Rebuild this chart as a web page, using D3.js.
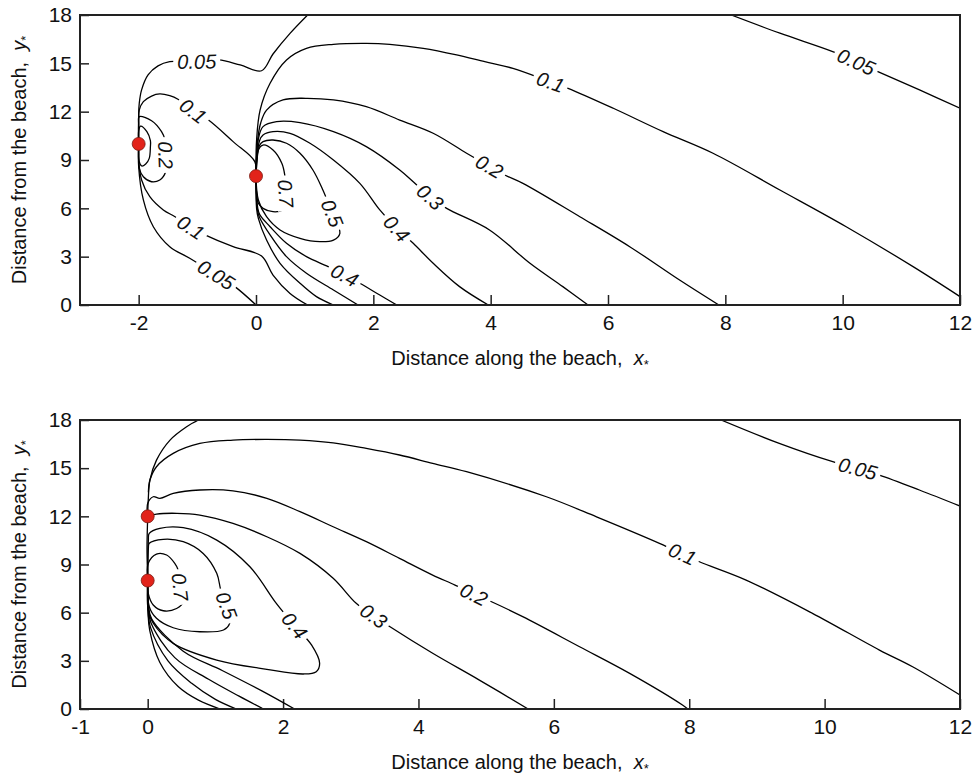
<!DOCTYPE html>
<html>
<head>
<meta charset="utf-8">
<script src="https://cdn.jsdelivr.net/npm/d3@7"></script>
<style>
  body { margin: 0; background: #fff; }
  svg { display: block; }
  .tick text { font-family: "Liberation Sans", Arial, sans-serif; font-size: 21px; fill: #111; }
  .tick line { stroke: #222; stroke-width: 1.5; }
  .axisTitle { font-family: "Liberation Sans", Arial, sans-serif; font-size: 20px; fill: #111; }
  .clabel { font-family: "Liberation Sans", Arial, sans-serif; font-size: 20px; font-style: italic; fill: #111; }
</style>
</head>
<body>
<script>
// ---- data ----
var topXDomain = [-3, 12];
var botXDomain = [-1, 12];
var yDomain = [0, 18];
var topXTicks = [-2, 0, 2, 4, 6, 8, 10, 12];
var botXTicks = [-1, 0, 2, 4, 6, 8, 10, 12];
var yTicks = [0, 3, 6, 9, 12, 15, 18];

var topSources = [[-2, 10], [0, 8]];
var botSources = [[0, 12], [0, 8]];

// upper panel, contours around the source at (-2,10)
var topA03 = [[-2,10],[-2,10.8],[-1.97,11.1],[-1.86,10.76],[-1.8,10.2],[-1.8,9.83],[-1.82,9.1],[-1.88,8.75],[-1.95,8.63],[-1.99,8.9],[-2,9.6],[-2,10]];
var topA02 = [[-2,10],[-2,11.2],[-1.99,11.69],[-1.78,11.44],[-1.61,10.76],[-1.55,10.24],[-1.54,9.31],[-1.54,8.27],[-1.64,7.76],[-1.78,7.65],[-1.92,7.96],[-1.99,8.48],[-2,9.4],[-2,10]];
var topA01up = [[-2,10],[-2,11.5],[-1.99,12.1],[-1.92,12.62],[-1.78,12.97],[-1.64,13.1],[-1.47,12.99],[-1.33,12.77],[-1.07,12.05],[-0.81,11.48],[-0.39,10.14],[-0.02,8.9],[0,8]];
var topA005up = [[-2,10],[-2,11.8],[-1.99,12.52],[-1.95,13.35],[-1.84,14.28],[-1.67,14.84],[-1.47,15.1],[-1.01,15.12],[-0.64,15.21],[-0.27,14.9],[0.095,14.54],[0.29,15.58],[0.58,16.86],[0.88,18]];
var topA01low = [[-2,10],[-2,9.0],[-1.95,7.76],[-1.81,6.72],[-1.58,5.9],[-1.38,5.48],[-1.11,4.82],[-0.87,4.35],[-0.39,3.62],[0.095,3.04],[0.29,1.86],[0.58,0.72],[0.88,0]];
var topA005low = [[-2,10],[-2,8.58],[-1.92,6.52],[-1.75,4.86],[-1.47,3.62],[-1.13,2.9],[-0.68,1.88],[-0.36,1.14],[0,0]];
// upper panel, contours around the source at (0,8)
var topB01 = [[0,8],[0.01,10.24],[0.07,12.1],[0.24,13.76],[0.52,15.21],[0.86,15.93],[1.32,16.18],[1.88,16.24],[2.28,16.18],[2.85,15.93],[3.42,15.52],[3.9,15.1],[4.38,14.69],[5.02,13.85],[5.32,13.45],[6.09,12.21],[6.94,10.76],[7.79,9.42],[8.93,7.14],[10.06,4.86],[11.2,2.38],[12,0.52]];
var topB02 = [[0,8],[0.03,10.3],[0.08,11.3],[0.18,12.1],[0.46,12.73],[0.86,12.83],[1.32,12.73],[1.88,12.31],[2.45,11.48],[3.02,10.66],[3.59,9.42],[3.98,8.6],[4.24,8.07],[4.55,7.55],[5.52,5.48],[6.37,3.62],[7.22,1.55],[7.89,0]];
var topB03 = [[0,8],[0.04,10.3],[0.12,11.07],[0.35,11.38],[0.75,11.32],[1.32,10.76],[1.88,9.83],[2.45,8.38],[2.68,7.65],[2.97,6.7],[3.25,6.0],[3.98,4.66],[4.67,2.59],[5.23,1.14],[5.66,0]];
var topB04 = [[0,8],[0.06,10.2],[0.12,10.55],[0.29,10.76],[0.58,10.66],[0.92,10.04],[1.32,9.0],[1.77,7.55],[2.11,5.9],[2.4,4.75],[2.68,3.83],[3.02,2.59],[3.47,1.14],[3.96,0]];
var topB05 = [[0,8],[0.06,9.9],[0.12,10.14],[0.29,10.24],[0.52,10.04],[0.75,9.42],[0.97,8.38],[1.14,7.14],[1.3,5.7],[1.43,4.45],[1.32,4.03],[1.09,3.93],[0.75,4.14],[0.41,4.66],[0.18,5.48],[0.04,6.52],[0,8]];
var topB07 = [[0,8],[0.04,9.62],[0.12,9.93],[0.29,9.62],[0.44,8.8],[0.49,8.07],[0.51,6.93],[0.52,6.21],[0.46,5.9],[0.29,5.79],[0.12,6.0],[0.04,6.31],[0,8]];
var topB04low = [[0,8],[0.03,6.0],[0.066,5.59],[0.24,4.86],[0.52,3.83],[0.86,3.0],[1.23,2.38],[1.51,1.85],[1.77,1.35],[2.11,0.62],[2.4,0]];
var topB03low = [[0,8],[0.02,6.0],[0.055,5.48],[0.24,4.35],[0.52,3.0],[0.86,1.97],[1.32,0.93],[1.74,0]];
var topB02low = [[0,8],[0.01,6.0],[0.04,5.38],[0.18,4.03],[0.41,2.59],[0.75,1.35],[1.03,0.52],[1.32,0]];
var topB005 = [[8.1,18],[8.93,16.87],[9.83,15.73],[10.23,15.1],[10.6,14.48],[11.31,13.35],[12,12.21]];

var topLabels = [
  ["0.05", -1.01, 15.12], ["0.1", -1.07, 12.05], ["0.2", -1.54, 9.31],
  ["0.1", -1.11, 4.82], ["0.05", -0.68, 1.88], ["0.7", 0.51, 6.93],
  ["0.5", 1.3, 5.7], ["0.4", 2.4, 4.75], ["0.3", 2.97, 6.7],
  ["0.4", 1.51, 1.85], ["0.2", 3.98, 8.6], ["0.1", 5.02, 13.85],
  ["0.05", 10.23, 15.1]
];

// lower panel, sources at (0,12) and (0,8)
var botL005 = [[0.75,18],[0.575,17.58],[0.33,16.75],[0.13,15.5],[0.033,14.26],[0.008,13.01],[0,12],[-0.01,10],[0,8],[0.005,6.0],[0.03,4.9],[0.18,2.9],[0.45,1.4],[0.75,0.55],[1.07,0]];
var botL01 = [[0.01,13.5],[0.033,14.26],[0.13,15.09],[0.377,15.92],[0.77,16.54],[1.26,16.75],[1.76,16.79],[2.25,16.75],[2.74,16.58],[3.23,16.23],[3.72,15.82],[4.21,15.3],[4.71,14.78],[5.89,13.22],[6.63,11.97],[7.56,10.32],[7.9,9.66],[8.15,9.17],[8.84,8.03],[9.82,5.96],[10.81,3.67],[11.3,2.63],[12,0.87]];
var botL02 = [[0,12],[0,12.8],[0.082,13.22],[0.18,13.12],[0.377,13.43],[0.77,13.64],[1.26,13.59],[1.76,13.12],[2.25,12.29],[2.74,11.35],[3.23,10.42],[3.72,9.38],[4.21,8.34],[4.54,7.72],[4.82,7.15],[5.08,6.68],[5.54,5.75],[6.38,3.88],[7.12,2.22],[7.9,0.25],[7.98,0]];
var botL03 = [[0,12],[0.13,12.14],[0.43,12.19],[0.77,12.08],[1.26,11.56],[1.76,10.73],[2.25,9.69],[2.74,8.14],[3.08,6.58],[3.34,5.8],[3.58,5.12],[4.21,3.47],[4.9,1.8],[5.62,0]];
var botL04 = [[0,8],[0.01,10.5],[0.023,10.94],[0.18,11.25],[0.525,11.29],[1.02,10.52],[1.51,8.86],[1.9,6.58],[2.17,5.2],[2.42,3.99],[2.54,2.85],[2.49,2.32],[2.3,2.18],[1.76,2.47],[1.02,3.05],[0.377,4.09],[0.082,5.34],[0.008,6.16],[0,8]];
var botL05 = [[0,8],[0.01,10.0],[0.023,10.32],[0.23,10.57],[0.525,10.42],[0.82,9.69],[1.02,8.45],[1.08,7.41],[1.165,6.45],[1.21,5.34],[1.12,4.92],[0.77,4.81],[0.377,5.06],[0.13,5.65],[0.023,6.37],[0,8]];
var botL07 = [[0,8],[0.008,9.07],[0.13,9.65],[0.28,9.59],[0.4,9.07],[0.45,8.66],[0.48,7.6],[0.525,6.68],[0.427,6.26],[0.23,6.12],[0.082,6.48],[0.008,7.2],[0,8]];
var botL03low = [[0,8],[0.01,6.5],[0.06,5.6],[0.525,3.6],[1.1,2.4],[1.7,1.1],[2.17,0]];
var botL02low = [[0,8],[0.01,6.4],[0.05,5.35],[0.4,3.2],[0.9,1.85],[1.35,0.8],[1.71,0]];
var botL01low = [[0,8],[0.005,6.2],[0.04,5.1],[0.3,3.0],[0.65,1.6],[1.0,0.6],[1.31,0]];
var botL005b = [[8.47,18],[9.33,16.54],[10.12,15.4],[10.49,14.98],[10.81,14.57],[11.4,13.64],[12,12.64]];

var botLabels = [
  ["0.7", 0.48, 7.6], ["0.5", 1.165, 6.45], ["0.4", 2.17, 5.2],
  ["0.3", 3.34, 5.8], ["0.2", 4.82, 7.15], ["0.1", 7.9, 9.66],
  ["0.05", 10.49, 14.98]
];

var topLines = [topA03, topA02, topA01up, topA005up, topA01low, topA005low,
  topB01, topB02, topB03, topB04, topB05, topB07, topB04low, topB03low, topB02low, topB005];
var botLines = [botL005, botL01, botL02, botL03, botL04, botL05, botL07,
  botL03low, botL02low, botL01low, botL005b];

// ---- drawing ----
var svgWidth = 974, svgHeight = 776;
var svg = d3.select("body").append("svg")
  .attr("width", svgWidth)
  .attr("height", svgHeight);

function drawPanel(id, box, xDomain, xTicks, lines, labels, sources) {
  var x = d3.scaleLinear().domain(xDomain).range([box.left, box.right]);
  var y = d3.scaleLinear().domain(yDomain).range([box.bottom, box.top]);

  svg.append("clipPath").attr("id", id)
    .append("rect")
    .attr("x", box.left).attr("y", box.top)
    .attr("width", box.right - box.left).attr("height", box.bottom - box.top);

  var g = svg.append("g");

  // axes, ticks pointing inward
  g.append("g")
    .attr("transform", `translate(0, ${box.bottom})`)
    .call(d3.axisBottom(x).tickValues(xTicks).tickSizeInner(-10).tickSizeOuter(0).tickPadding(10).tickFormat(d => String(d)))
    .call(a => a.select(".domain").remove());

  g.append("g")
    .attr("transform", `translate(${box.left}, 0)`)
    .call(d3.axisLeft(y).tickValues(yTicks).tickSizeInner(-9).tickSizeOuter(0).tickPadding(8))
    .call(a => a.select(".domain").remove());

  // contour lines
  var line = d3.line()
    .x(d => x(d[0]))
    .y(d => y(d[1]))
    .curve(d3.curveCatmullRom.alpha(0.5));

  var lg = g.append("g").attr("clip-path", `url(#${id})`);
  lg.selectAll("path")
    .data(lines)
    .enter()
    .append("path")
    .attr("d", line)
    .attr("fill", "none")
    .attr("stroke", "#000")
    .attr("stroke-width", 1.3);

  // contour labels, oriented along the nearest line segment
  labels.forEach(function(lb) {
    var px = x(lb[1]), py = y(lb[2]);
    var best = Infinity, ang = 0;
    lines.forEach(function(ln) {
      for (var i = 0; i < ln.length - 1; i++) {
        var ax = x(ln[i][0]), ay = y(ln[i][1]);
        var bx = x(ln[i + 1][0]), by = y(ln[i + 1][1]);
        var dx = bx - ax, dy = by - ay;
        var len2 = dx * dx + dy * dy || 1;
        var t = Math.max(0, Math.min(1, ((px - ax) * dx + (py - ay) * dy) / len2));
        var qx = ax + t * dx - px, qy = ay + t * dy - py;
        var dist = qx * qx + qy * qy;
        if (dist < best) { best = dist; ang = Math.atan2(dy, dx) * 180 / Math.PI; }
      }
    });
    if (ang > 90) ang -= 180;
    if (ang < -90) ang += 180;

    var tg = lg.append("g").attr("transform", `translate(${px},${py}) rotate(${ang})`);
    var bg = tg.append("rect").attr("fill", "#fff");
    var txt = tg.append("text")
      .attr("class", "clabel")
      .attr("text-anchor", "middle")
      .attr("dy", "0.36em")
      .text(lb[0]);
    var w = txt.node().getComputedTextLength();
    bg.attr("x", -w / 2 - 4).attr("y", -9).attr("width", w + 8).attr("height", 18);
  });

  // frame
  g.append("rect")
    .attr("x", box.left).attr("y", box.top)
    .attr("width", box.right - box.left).attr("height", box.bottom - box.top)
    .attr("fill", "none")
    .attr("stroke", "#222")
    .attr("stroke-width", 2);

  // sources
  g.selectAll("circle.src")
    .data(sources)
    .enter()
    .append("circle")
    .attr("class", "src")
    .attr("cx", d => x(d[0]))
    .attr("cy", d => y(d[1]))
    .attr("r", 6.5)
    .attr("fill", "#e2231a")
    .attr("stroke", "#7a1a12")
    .attr("stroke-width", 0.8);

  // axis titles
  var xt = g.append("text")
    .attr("class", "axisTitle")
    .attr("text-anchor", "middle")
    .attr("x", (box.left + box.right) / 2)
    .attr("y", box.bottom + 60);
  xt.append("tspan").text("Distance along the beach,\u00a0\u00a0");
  xt.append("tspan").attr("font-style", "italic").text("x");
  xt.append("tspan").attr("font-size", "13px").attr("dy", 4).text("*");

  var yt = g.append("text")
    .attr("class", "axisTitle")
    .attr("text-anchor", "middle")
    .attr("transform", `translate(26, ${(box.top + box.bottom) / 2}) rotate(-90)`);
  yt.append("tspan").text("Distance from the beach,\u00a0\u00a0");
  yt.append("tspan").attr("font-style", "italic").text("y");
  yt.append("tspan").attr("font-size", "13px").attr("dy", 4).text("*");
}

drawPanel("clipTop", {left: 80, right: 960, top: 15, bottom: 305}, topXDomain, topXTicks, topLines, topLabels, topSources);
drawPanel("clipBot", {left: 80, right: 960, top: 420, bottom: 709}, botXDomain, botXTicks, botLines, botLabels, botSources);
</script>
</body>
</html>
